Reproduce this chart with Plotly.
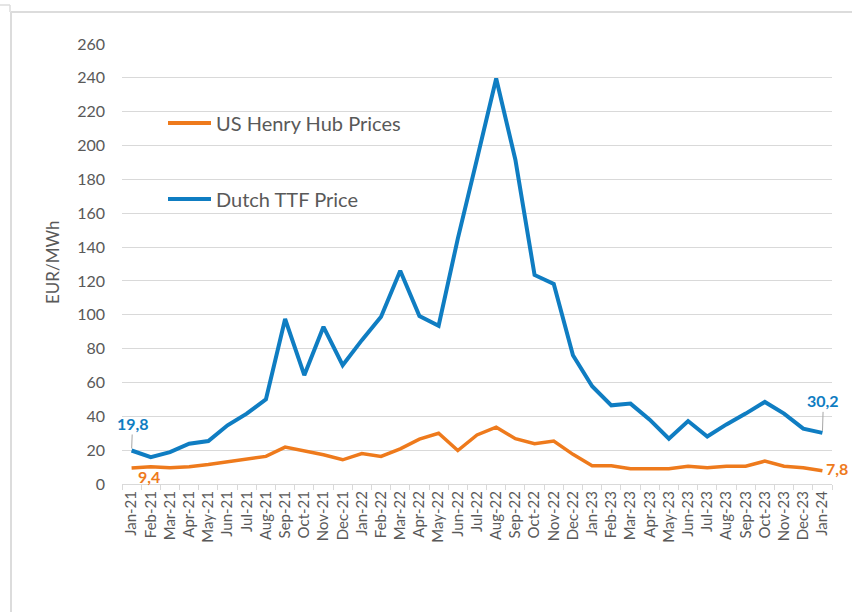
import plotly.graph_objects as go

months = ["Jan-21","Feb-21","Mar-21","Apr-21","May-21","Jun-21","Jul-21","Aug-21","Sep-21","Oct-21","Nov-21","Dec-21",
          "Jan-22","Feb-22","Mar-22","Apr-22","May-22","Jun-22","Jul-22","Aug-22","Sep-22","Oct-22","Nov-22","Dec-22",
          "Jan-23","Feb-23","Mar-23","Apr-23","May-23","Jun-23","Jul-23","Aug-23","Sep-23","Oct-23","Nov-23","Dec-23",
          "Jan-24"]
ttf = [19.8, 15.9, 18.8, 23.8, 25.4, 34.7, 41.6, 50.0, 97.5, 64.3, 92.9, 70.2,
       85.0, 98.8, 126.0, 99.2, 93.5, 145.0, 192.0, 239.6, 191.6, 123.5, 118.2, 76.1,
       57.8, 46.5, 47.5, 38.0, 26.8, 37.2, 28.1, 35.2, 41.6, 48.5, 41.6, 32.7,
       30.2]
henry = [9.4, 10.2, 9.6, 10.2, 11.5, 13.2, 14.5, 16.3, 21.8, 19.8, 17.3, 14.3,
         18.0, 16.3, 20.8, 26.5, 30.0, 19.8, 29.0, 33.6, 26.8, 23.8, 25.4, 17.5,
         10.8, 10.8, 9.0, 9.0, 9.0, 10.5, 9.6, 10.5, 10.5, 13.5, 10.5, 9.6,
         7.8]
y_ticks = list(range(0, 261, 20))
series_names = ["US Henry Hub Prices", "Dutch TTF Price"]

BLUE = "#0F7DC2"
ORANGE = "#EE7A1C"
GRAY = "#595959"
GRID = "#D9D9D9"
FONT = "Lato"

W, H = 852, 612
L, R, T, B = 122, 20, 44, 128
PW, PH = W - L - R, H - T - B

def px(x):
    return (x - L) / PW

def py(y):
    return (H - B - y) / PH

fig = go.Figure()
fig.add_trace(go.Scatter(x=months, y=henry, mode="lines", name=series_names[0],
                         line=dict(color=ORANGE, width=3.5), showlegend=False))
fig.add_trace(go.Scatter(x=months, y=ttf, mode="lines", name=series_names[1],
                         line=dict(color=BLUE, width=4), showlegend=False))

shapes = []
# chart border lines
border = "#DCDCDC"
shapes.append(dict(type="line", xref="paper", yref="paper", x0=px(11), x1=px(11), y0=py(12), y1=py(612),
                   line=dict(color=border, width=2)))
shapes.append(dict(type="line", xref="paper", yref="paper", x0=px(11), x1=px(852), y0=py(12), y1=py(12),
                   line=dict(color=border, width=2)))
shapes.append(dict(type="line", xref="paper", yref="paper", x0=px(0), x1=px(10), y0=py(5), y1=py(5),
                   line=dict(color=border, width=1.5)))
shapes.append(dict(type="line", xref="paper", yref="paper", x0=px(10), x1=px(10), y0=py(5), y1=py(12),
                   line=dict(color=border, width=1.5)))
# legend samples
shapes.append(dict(type="line", xref="paper", yref="paper", x0=px(168), x1=px(211), y0=py(123), y1=py(123),
                   line=dict(color=ORANGE, width=4)))
shapes.append(dict(type="line", xref="paper", yref="paper", x0=px(168), x1=px(211), y0=py(199), y1=py(199),
                   line=dict(color=BLUE, width=4)))

annotations = [
    dict(xref="paper", yref="paper", x=px(214), y=py(123), xanchor="left", yanchor="middle",
         text=series_names[0], showarrow=False, font=dict(family=FONT, size=20, color=GRAY)),
    dict(xref="paper", yref="paper", x=px(214), y=py(199), xanchor="left", yanchor="middle",
         text=series_names[1], showarrow=False, font=dict(family=FONT, size=20, color=GRAY)),
    # data labels
    dict(x=months[0], y=ttf[0], text=f"{ttf[0]:.1f}".replace(".", ","), showarrow=True, arrowhead=0,
         arrowwidth=1, arrowcolor="#A6A6A6", ax=1, ay=-27, standoff=2,
         font=dict(family=FONT, size=16, color=BLUE, weight="bold")),
    dict(x=months[0], y=henry[0], text=f"{henry[0]:.1f}".replace(".", ","), showarrow=False,
         xshift=17, yshift=-8, font=dict(family=FONT, size=16, color=ORANGE, weight="bold")),
    dict(x=months[-1], y=ttf[-1], text=f"{ttf[-1]:.1f}".replace(".", ","), showarrow=True, arrowhead=0,
         arrowwidth=1, arrowcolor="#A6A6A6", ax=1, ay=-32, standoff=2,
         font=dict(family=FONT, size=16, color=BLUE, weight="bold")),
    dict(x=months[-1], y=henry[-1], text=f"{henry[-1]:.1f}".replace(".", ","), showarrow=False,
         xshift=15, yshift=2, font=dict(family=FONT, size=16, color=ORANGE, weight="bold")),
    # y axis title
    dict(xref="paper", yref="paper", x=px(52), y=py(263), text="EUR/MWh", textangle=-90, showarrow=False,
         xanchor="center", yanchor="middle", font=dict(family=FONT, size=17, color=GRAY)),
]

fig.update_layout(
    width=W, height=H,
    margin=dict(l=L, r=R, t=T, b=B, pad=0),
    paper_bgcolor="white", plot_bgcolor="white",
    font=dict(family=FONT, color=GRAY),
    shapes=shapes, annotations=annotations,
    showlegend=False,
)
fig.update_xaxes(type="category", range=[-0.5, len(months) - 0.5], showgrid=False,
                 showline=True, linecolor=GRID, linewidth=1,
                 ticks="outside", tickson="boundaries", ticklen=5, tickcolor=GRID,
                 tickangle=-90, tickfont=dict(family=FONT, size=15, color=GRAY))
fig.update_yaxes(range=[0, 260], tickvals=y_ticks, showgrid=True, gridcolor=GRID, gridwidth=1,
                 zeroline=False, showline=False, ticks="", ticklabelstandoff=16,
                 tickfont=dict(family=FONT, size=16, color=GRAY))

fig.write_html("out.html", config={"displayModeBar": False},
               post_script="document.body.style.margin='0';document.body.style.overflow='hidden';")
